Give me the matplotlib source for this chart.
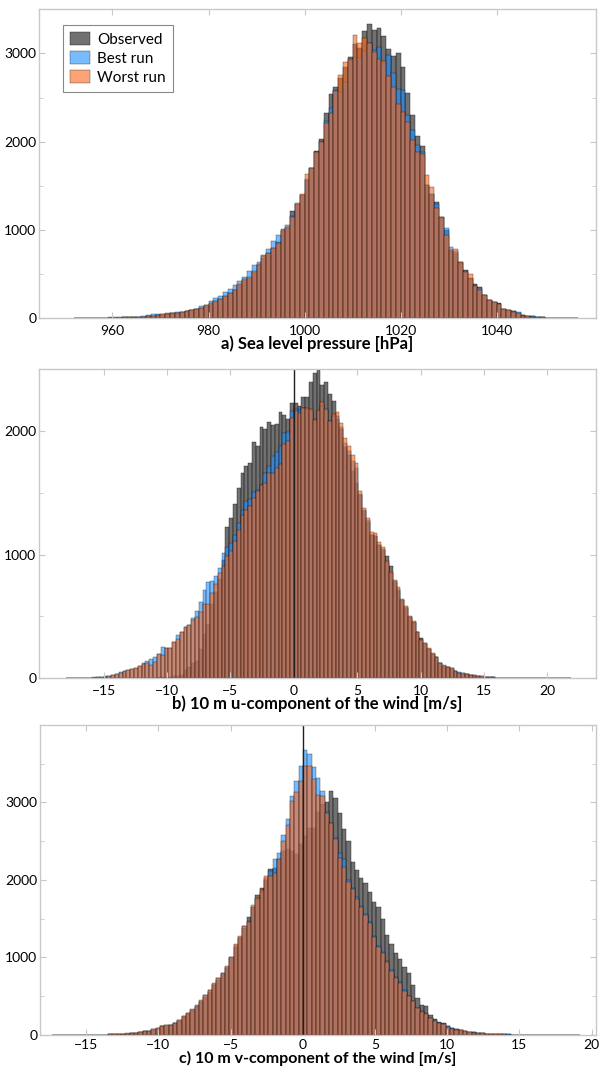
import numpy as np
import matplotlib
matplotlib.use("Agg")
import matplotlib.pyplot as plt
from matplotlib.ticker import MultipleLocator, FixedLocator

plt.rcParams['font.family'] = ['Lato', 'DejaVu Sans']

# a) sea level pressure, 1 hPa bins starting at 952 hPa
slp_start, slp_width = 952, 1.0
slp_obs = [2, 2, 3, 3, 4, 4, 5, 6, 7, 8, 9, 11, 13, 15, 18,
           22, 28, 35, 42, 50, 56, 62, 70, 78, 90, 100, 115, 140,
           165, 190, 215, 250, 285, 320, 380, 430, 460, 520, 600, 680, 740, 800, 860, 990, 1020, 1210, 1300, 1400,
           1570, 1700, 1900, 2030, 2320,
           2540, 2616, 2721, 2842, 2960, 3103, 3064, 3257, 3330, 3265, 3283, 3200, 3046, 2970, 3000, 2842, 2547, 2302, 2068, 1951,
           1510, 1404, 1313, 1151, 1000, 760, 740, 641, 547, 453, 385, 351, 264, 208, 189,
           170, 102, 94, 80, 62, 32, 25, 20, 15, 12, 8, 6, 5, 4, 3, 2, 1]
slp_best = [3, 3, 4, 5, 6, 7, 8, 9, 10, 11, 12, 14, 16, 18, 22,
            32, 48, 48, 52, 58, 62, 68, 75, 82, 98, 108, 140, 152,
            200, 225, 255, 300, 335, 380, 420, 470, 540, 600, 640, 720, 780, 880, 940, 1010, 1060, 1160, 1300, 1400,
            1580, 1700, 1880, 2010, 2230,
            2378, 2590, 2559, 2680, 2930, 2963, 2951, 3027, 3122, 3042, 3076, 2876, 2981, 2774, 2596, 2585, 2302, 2132, 1963, 1880,
            1510, 1404, 1290, 1140, 1019, 811, 760, 630, 540, 450, 380, 345, 260, 205, 185,
            160, 100, 90, 87, 68, 38, 28, 20, 15, 12, 8, 6, 5, 4, 3, 2, 1]
slp_worst = [2, 2, 3, 3, 4, 5, 5, 6, 7, 8, 9, 11, 13, 15, 19,
             23, 30, 36, 44, 50, 56, 62, 70, 78, 90, 102, 118, 145,
             170, 195, 220, 255, 290, 325, 390, 440, 470, 530, 620, 700, 740, 800, 850, 1000, 1030, 1150, 1310, 1410,
             1635, 1700, 1880, 2000, 2210,
             2322, 2575, 2755, 2906, 2940, 3208, 3114, 3170, 3122, 3011, 2936, 2913, 2747, 2615, 2423, 2340, 2219, 2020, 1888, 1860,
             1623, 1490, 1245, 1151, 940, 774, 781, 641, 520, 500, 370, 320, 264, 208, 180,
             165, 100, 90, 75, 60, 30, 25, 18, 14, 11, 8, 6, 5, 4, 3, 2, 1]

# b) 10 m u-wind, 0.3 m/s bins starting at -18 m/s
u_start, u_width = -18.0, 0.3
u_obs = [0, 0, 0, 0, 1, 1, 1, 1, 1, 2, 2, 2, 2, 3, 3, 3, 3, 4, 4, 4, 5, 5,
         5, 5, 8, 8, 10, 12, 15, 20, 27, 67, 94, 127, 138, 240, 360, 440, 600, 700, 800, 960,
         1224, 1297, 1414, 1541, 1662, 1716, 1743, 1914, 1878, 2032, 2019, 2073, 2049, 2054, 2154, 2130, 2095, 2225,
         2225, 2200, 2280, 2280, 2400, 2470, 2495, 2370, 2400, 2300, 2245, 2100, 2015, 1875, 1810, 1680, 1580, 1480, 1352, 1262,
         1160, 1150, 1080, 1040, 992, 905, 780, 710, 630, 570, 495, 455, 378, 324, 280, 240, 200, 170, 122, 100,
         90, 78, 60, 45, 38, 32, 26, 21, 17, 14, 11, 9, 7, 5, 4, 3, 3, 2, 2, 1,
         1, 1, 1, 1, 1, 1, 1, 0, 0, 0, 0, 0, 0]
u_best = [1, 1, 2, 2, 3, 4, 5, 7, 9, 12, 15, 22, 30, 38, 48, 60, 68, 78, 86, 100, 125, 140,
          154, 170, 197, 251, 243, 243, 292, 349, 373, 414, 432, 486, 543, 616, 716, 776, 784, 824, 892, 1013,
          1062, 1095, 1162, 1257, 1365, 1433, 1454, 1506, 1527, 1567, 1662, 1716, 1797, 1833, 1878, 1987, 1995, 2162,
          2180, 2170, 2190, 2180, 2170, 2100, 2160, 2200, 2170, 2080, 2120, 2120, 2030, 1900, 1840, 1760, 1700, 1490, 1360, 1280,
          1160, 1150, 1080, 1045, 930, 850, 785, 720, 630, 575, 495, 450, 372, 318, 285, 240, 200, 172, 122, 103,
          92, 80, 62, 48, 42, 36, 30, 25, 20, 16, 13, 10, 8, 6, 5, 4, 3, 3, 2, 2,
          1, 1, 1, 1, 1, 1, 1, 1, 0, 0, 0, 0, 0]
u_worst = [1, 1, 1, 2, 2, 3, 4, 6, 8, 10, 13, 20, 28, 35, 44, 58, 66, 76, 84, 98, 118, 120,
           111, 135, 197, 189, 243, 243, 292, 321, 373, 414, 432, 473, 494, 538, 603, 603, 694, 762, 851, 905,
           987, 1027, 1108, 1203, 1324, 1365, 1397, 1460, 1514, 1567, 1581, 1662, 1662, 1703, 1730, 1892, 1919, 2108,
           2160, 2150, 2185, 2190, 2175, 2090, 2170, 2235, 2180, 2080, 2135, 2155, 2068, 1941, 1879, 1803, 1743, 1514, 1380, 1300,
           1181, 1176, 1100, 1065, 946, 860, 797, 735, 641, 587, 505, 460, 378, 310, 289, 243, 203, 176, 122, 105,
           95, 81, 62, 46, 40, 33, 28, 23, 19, 15, 12, 9, 7, 6, 5, 4, 3, 2, 2, 1,
           1, 1, 1, 1, 1, 1, 0, 0, 0, 0, 0, 0, 0]

# c) 10 m v-wind, 0.3 m/s bins starting at -17.4 m/s
v_start, v_width = -17.4, 0.3
v_obs = [0, 0, 1, 1, 1, 1, 2, 2, 2, 3, 3, 4, 5, 7, 9, 12, 15, 18,
         24, 28, 36, 48, 52, 70, 82, 110, 122, 125, 155, 185, 235, 275, 315, 360, 430, 490, 560, 640,
         715, 790, 870, 990, 1140, 1250, 1380, 1516, 1650, 1800, 1900, 2000, 2137, 2150, 2266, 2374, 2400, 2374, 2331, 2460,
         2568, 2676, 2676, 2880, 2980, 3001, 3151, 3056, 2870, 2660, 2500, 2230, 2130, 2030, 1960, 1840, 1710, 1645, 1494, 1286,
         1169, 1061, 983, 879, 801, 650, 476, 390, 377, 260, 204, 173, 152, 117, 87, 74, 62, 48, 39, 35,
         26, 22, 18, 14, 12, 10, 8, 7, 6, 5, 4, 3, 3, 2, 2, 2, 1, 1, 1, 1, 1, 1, 0, 0]
v_best = [0, 1, 1, 1, 1, 1, 2, 2, 2, 3, 4, 5, 6, 8, 10, 13, 17, 20,
          26, 30, 39, 52, 56, 74, 87, 115, 128, 130, 160, 195, 245, 285, 333, 381, 440, 510, 585, 660,
          730, 805, 880, 1000, 1160, 1260, 1400, 1470, 1650, 1760, 1850, 2030, 2122, 2273, 2353, 2576, 2793, 3078, 3282, 3466,
          3678, 3627, 3454, 3311, 3151, 2880, 2740, 2540, 2353, 2275, 2000, 1900, 1780, 1670, 1560, 1460, 1280, 1150, 1070, 950,
          840, 745, 680, 580, 505, 440, 352, 308, 278, 222, 190, 157, 140, 112, 88, 74, 68, 50, 40, 33,
          26, 21, 17, 14, 12, 10, 8, 7, 6, 5, 4, 3, 3, 2, 2, 1, 1, 1, 1, 1, 0, 0, 0, 0]
v_worst = [0, 0, 1, 1, 1, 1, 1, 2, 2, 3, 4, 5, 6, 7, 9, 12, 16, 19,
           25, 29, 38, 50, 55, 72, 85, 112, 130, 128, 155, 190, 240, 283, 325, 370, 455, 511, 585, 671,
           736, 801, 888, 1009, 1169, 1277, 1407, 1464, 1680, 1762, 1870, 2057, 2050, 2094, 2275, 2503, 2706, 3022, 3139, 3282,
           3476, 3466, 3303, 3095, 3086, 2861, 2731, 2525, 2288, 2172, 1975, 1890, 1750, 1650, 1546, 1450, 1269, 1139, 1061, 940,
           823, 736, 671, 572, 498, 433, 346, 303, 273, 217, 186, 152, 140, 108, 82, 70, 62, 46, 37, 32,
           24, 20, 16, 13, 11, 9, 7, 6, 5, 4, 3, 3, 2, 2, 1, 1, 1, 0, 0, 0, 0, 0, 0, 0]

labels = ["Observed", "Best run", "Worst run"]
colors = ["#3a3a3a", "#1e90ff", "#f7681e"]
alphas = [0.72, 0.6, 0.6]
frame_col = "#c8c8c8"

panels = [
    dict(start=slp_start, width=slp_width, series=[slp_obs, slp_best, slp_worst],
         xlim=(944.7, 1060.7), ylim=(0, 3500),
         xticks=[960, 980, 1000, 1020, 1040], yticks=[0, 1000, 2000, 3000], zero=False,
         tpad=5, lpad=-1, lsize=12,
         title="a) Sea level pressure [hPa]", rect=[0.0651, 0.7020, 0.9300, 0.2893]),
    dict(start=u_start, width=u_width, series=[u_obs, u_best, u_worst],
         xlim=(-20.1, 23.84), ylim=(0, 2500),
         xticks=[-15, -10, -5, 0, 5, 10, 15, 20], yticks=[0, 1000, 2000], zero=True,
         tpad=5, lpad=-1, lsize=12,
         title="b) 10 m u-component of the wind [m/s]", rect=[0.0651, 0.3649, 0.9300, 0.2893]),
    dict(start=v_start, width=v_width, series=[v_obs, v_best, v_worst],
         xlim=(-18.2, 20.3), ylim=(0, 4000),
         xticks=[-15, -10, -5, 0, 5, 10, 15, 20], yticks=[0, 1000, 2000, 3000], zero=True,
         tpad=3, lpad=0, lsize=11.5,
         title="c) 10 m v-component of the wind [m/s]", rect=[0.0668, 0.0309, 0.9282, 0.2903]),
]

fig = plt.figure(figsize=(5.99, 10.68), dpi=100)

for i, p in enumerate(panels):
    ax = fig.add_axes(p["rect"])
    for vals, lab, col, a in zip(p["series"], labels, colors, alphas):
        left = p["start"] + p["width"] * np.arange(len(vals))
        ax.bar(left, vals, width=p["width"], align="edge", color=col, alpha=a,
               edgecolor="black", linewidth=0.35, label=lab)
    if p["zero"]:
        ax.axvline(0, color="#202020", linewidth=1.0)
    ax.set_xlim(*p["xlim"])
    ax.set_ylim(*p["ylim"])
    ax.xaxis.set_major_locator(FixedLocator(p["xticks"]))
    ax.yaxis.set_major_locator(FixedLocator(p["yticks"]))
    ax.yaxis.set_minor_locator(MultipleLocator(500))
    ax.tick_params(which="both", direction="in", top=True, right=True,
                   color=frame_col, labelsize=10)
    ax.tick_params(axis="x", pad=p["tpad"])
    ax.tick_params(axis="y", pad=2)
    ax.tick_params(which="major", length=4)
    ax.tick_params(which="minor", length=3)
    ax.tick_params(axis="x", which="minor", bottom=False, top=False)
    for s in ax.spines.values():
        s.set_color(frame_col)
        s.set_linewidth(1.0)
    ax.set_xlabel(p["title"], fontsize=p["lsize"], fontweight="bold", labelpad=p["lpad"])
    if i == 0:
        leg = ax.legend(loc="upper left", bbox_to_anchor=(0.043, 0.949), borderaxespad=0,
                        fontsize=11, fancybox=False, framealpha=1, edgecolor="#888888",
                        handlelength=1.3, handleheight=0.9, labelspacing=0.3,
                        handletextpad=0.5, borderpad=0.45)
        leg.get_frame().set_linewidth(0.8)

fig.savefig("out.png", dpi=100)
